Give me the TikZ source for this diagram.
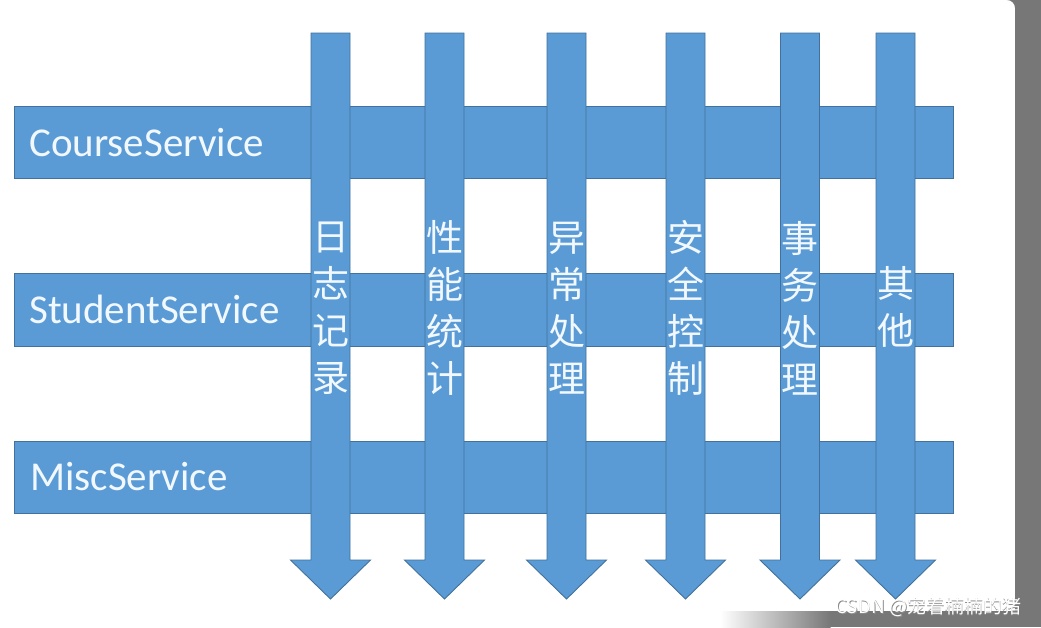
\documentclass[tikz,border=0pt]{standalone}
\usepackage{fontspec}
\setmainfont{Carlito}
\newfontfamily\cjk{Noto Sans CJK SC}
\definecolor{barblue}{HTML}{5B9BD5}
\definecolor{edgeblue}{HTML}{41719C}
\definecolor{txtwhite}{HTML}{F2F8FF}
\definecolor{framegrey}{HTML}{777777}
\begin{document}
\begin{tikzpicture}[x=1pt,y=-1pt,
  bar/.style={fill=barblue,draw=edgeblue,line width=0.9pt},
  svclabel/.style={anchor=base west,inner sep=0pt,text=txtwhite,font=\fontsize{41}{49}\selectfont},
  vlabel/.style={align=center,inner sep=0pt,text=txtwhite,font=\cjk\fontsize{37}{47}\selectfont},
  wmark/.style={anchor=west,inner sep=0pt,font=\cjk\fontsize{19}{22}\selectfont}]
\useasboundingbox (0,0) rectangle (1041,627);
% background and frame
\fill[white] (0,0) rectangle (1041,627);
\fill[framegrey] (1015,0) rectangle (1041,627);
\fill[framegrey] (830,611) rectangle (1041,627);
\shade[left color=white,right color=framegrey] (720,611) rectangle (830.5,627);
\fill[framegrey] (1007,0) -- (1015,0) -- (1015,8) .. controls (1015,3.5) and (1011.5,0) .. (1007,0) -- cycle;
% horizontal service bars
\filldraw[bar] (14,106) rectangle (953,178);
\filldraw[bar] (14,273) rectangle (953,346);
\filldraw[bar] (14,441) rectangle (953,513);
\node[svclabel] (course) at (29,156.5) {CourseService};
\node[svclabel] (student) at (29,323.5) {StudentService};
\node[svclabel] (misc) at (30,490.5) {MiscService};
% vertical arrows
\foreach \c in {330.5,444.5,566.5,685.5,800,895.5}{
  \filldraw[bar] (\c-19.5,33) -- (\c+19.5,33) -- (\c+19.5,560) -- (\c+40,560)
     -- (\c,599) -- (\c-40,560) -- (\c-19.5,560) -- cycle;
}
\node[vlabel] (log) at (330.5,308) {日\\志\\记\\录};
\node[vlabel] (perf) at (444.5,308) {性\\能\\统\\计};
\node[vlabel] (exc) at (566.5,308) {异\\常\\处\\理};
\node[vlabel] (sec) at (685.5,308) {安\\全\\控\\制};
\node[vlabel] (tx) at (800,308) {事\\务\\处\\理};
\node[vlabel] (other) at (895.5,307) {其\\他};
% watermark
\node[wmark,text=black!45] (wmshadow) at (835.8,607.8) {CSDN @宠着楠楠的猪};
\node[wmark,text=white] (wm) at (835,607) {CSDN @宠着楠楠的猪};
\end{tikzpicture}
\end{document}
